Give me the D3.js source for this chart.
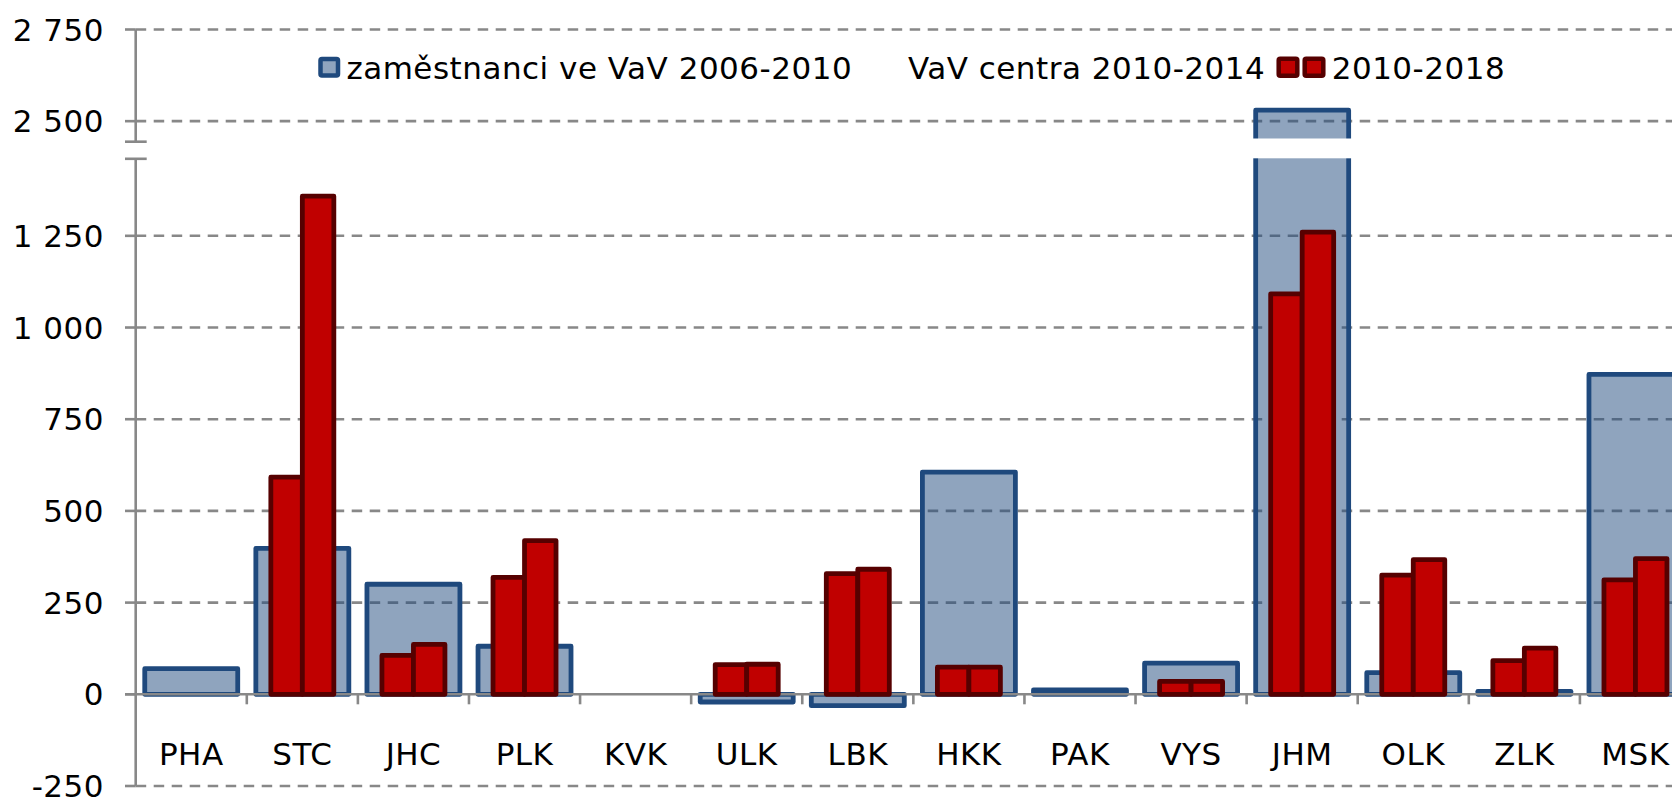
<!DOCTYPE html>
<html>
<head>
<meta charset="utf-8">
<script src="https://cdn.jsdelivr.net/npm/d3@7"></script>
<style>
  body { margin: 0; background: #fff; }
  svg { display: block; }
  text { font-family: "DejaVu Sans", Verdana, sans-serif; font-size: 31px; letter-spacing: 0.5px; fill: #000; }
</style>
</head>
<body>
<svg id="chart"></svg>
<script>
// regions (kraje) and the three series
const categories = ['PHA', 'STC', 'JHC', 'PLK', 'KVK', 'ULK', 'LBK', 'HKK', 'PAK', 'VYS', 'JHM', 'OLK', 'ZLK', 'MSK'];
const staff0610 = [70, 398, 300, 131, null, -21, -31, 606, 12, 85, 2530, 59, 8, 872];
const centra1014 = [null, 592, 106, 319, null, 81, 329, 74, null, 35, 1092, 325, 92, 312];
const centra1018 = [null, 1358, 136, 419, null, 82, 341, 74, null, 35, 1260, 367, 126, 370];
const legendLabels = ['zaměstnanci ve VaV 2006-2010', 'VaV centra 2010-2014', '2010-2018'];
const yTicksLower = [-250, 0, 250, 500, 750, 1000, 1250];
const yTicksUpper = [2500, 2750];

const width = 1672, height = 798;
const blue = '#1f497d', redFill = '#c00000', redEdge = '#560000', grid = '#888888';

const svg = d3.select('#chart').attr('width', width).attr('height', height);

// broken value axis: lower part up to ~1460, upper part from ~2444
const y = d3.scaleLinear()
  .domain([-250, 1460, 2444, 2750])
  .range([786, 158.8, 141.7, 29.5]);
const x0 = d3.scaleBand().domain(categories).range([135.7, 1691]);
const bw = x0.bandwidth();
const xr = d3.scaleBand().domain([0, 1]).range([0, bw * 0.567]);
const blueW = bw * 0.837;

const fmt = d3.formatLocale({ thousands: ' ', grouping: [3], decimal: ',', currency: ['', ''], minus: '-' }).format(',d');

const axisX = x0.range()[0];
const allTicks = yTicksLower.concat(yTicksUpper);

// gridlines
const g = svg.append('g');
g.selectAll('line.grid')
  .data(allTicks.filter((d) => d !== 0))
  .enter().append('line')
    .attr('x1', axisX).attr('x2', width)
    .attr('y1', (d) => y(d)).attr('y2', (d) => y(d))
    .attr('stroke', grid).attr('stroke-width', 2.6)
    .attr('stroke-dasharray', '10.5,7.5');
// tick marks
g.selectAll('line.tick')
  .data(allTicks)
  .enter().append('line')
    .attr('x1', 125).attr('x2', axisX)
    .attr('y1', (d) => y(d)).attr('y2', (d) => y(d))
    .attr('stroke', grid).attr('stroke-width', 2.6);
g.selectAll('text.ytick')
  .data(allTicks)
  .enter().append('text')
    .attr('x', 104).attr('y', (d) => y(d))
    .attr('text-anchor', 'end').attr('dominant-baseline', 'central')
    .text((d) => fmt(d));

// blue bars (semi transparent, gridlines show through)
svg.append('g').selectAll('rect')
  .data(categories.map((c, i) => ({ c, v: staff0610[i] })).filter((d) => d.v !== null))
  .enter().append('rect')
    .attr('x', (d) => x0(d.c) + (bw - blueW) / 2)
    .attr('y', (d) => Math.min(y(d.v), y(0)))
    .attr('width', blueW)
    .attr('height', (d) => Math.abs(y(d.v) - y(0)))
    .attr('fill', blue).attr('fill-opacity', 0.5)
    .attr('stroke', blue).attr('stroke-width', 4.8).attr('stroke-linejoin', 'round');

// category axis at zero
svg.append('line')
  .attr('x1', 125).attr('x2', width)
  .attr('y1', y(0)).attr('y2', y(0))
  .attr('stroke', grid).attr('stroke-width', 2.6);
svg.append('g').selectAll('line')
  .data(categories.slice(1))
  .enter().append('line')
    .attr('x1', (d) => x0(d)).attr('x2', (d) => x0(d))
    .attr('y1', y(0)).attr('y2', y(0) + 10)
    .attr('stroke', grid).attr('stroke-width', 2.6);

// red bars
const redSeries = [centra1014, centra1018];
const redData = [];
categories.forEach((c, i) => {
  redSeries.forEach((s, k) => { if (s[i] !== null) redData.push({ c, k, v: s[i] }); });
});
svg.append('g').selectAll('rect')
  .data(redData)
  .enter().append('rect')
    .attr('x', (d) => x0(d.c) + (bw - xr.range()[1]) / 2 + xr(d.k))
    .attr('y', (d) => y(d.v))
    .attr('width', xr.bandwidth())
    .attr('height', (d) => y(0) - y(d.v))
    .attr('fill', redFill)
    .attr('stroke', redEdge).attr('stroke-width', 4.8).attr('stroke-linejoin', 'round');

// cut through the break
svg.append('rect')
  .attr('x', axisX + 2).attr('y', 138.5)
  .attr('width', width).attr('height', 19.8)
  .attr('fill', '#fff');

// value axis, two pieces with break marks
const yTop = y(2750), yBreakHi = y(2444), yBreakLo = y(1460), yBottom = y(-250);
[[yTop, yBreakHi], [yBreakLo, yBottom]].forEach(([a, b]) => {
  svg.append('line')
    .attr('x1', axisX).attr('x2', axisX).attr('y1', a).attr('y2', b)
    .attr('stroke', grid).attr('stroke-width', 2.6);
});
[yBreakHi, yBreakLo].forEach((yy) => {
  svg.append('line')
    .attr('x1', 125).attr('x2', 146.7).attr('y1', yy).attr('y2', yy)
    .attr('stroke', grid).attr('stroke-width', 2.6);
});

// category labels
svg.append('g').selectAll('text')
  .data(categories)
  .enter().append('text')
    .attr('x', (d) => x0(d) + bw / 2)
    .attr('y', 765)
    .attr('text-anchor', 'middle')
    .text((d) => d);

// legend
const leg = svg.append('g');
leg.append('rect')
  .attr('x', 320.5).attr('y', 59).attr('width', 17.5).attr('height', 16.5)
  .attr('rx', 1.5)
  .attr('fill', blue).attr('fill-opacity', 0.5)
  .attr('stroke', blue).attr('stroke-width', 4.5);
leg.append('text').attr('x', 346.4).attr('y', 78.5).text(legendLabels[0]);
leg.append('text').attr('x', 907.9).attr('y', 78.5).text(legendLabels[1]);
[1278.7, 1304.7].forEach((lx) => {
  leg.append('rect')
    .attr('x', lx).attr('y', 58.7).attr('width', 18.6).attr('height', 17)
    .attr('rx', 1.5)
    .attr('fill', redFill)
    .attr('stroke', redEdge).attr('stroke-width', 4.5);
});
leg.append('text').attr('x', 1331.7).attr('y', 78.5).text(legendLabels[2]);
</script>
</body>
</html>
